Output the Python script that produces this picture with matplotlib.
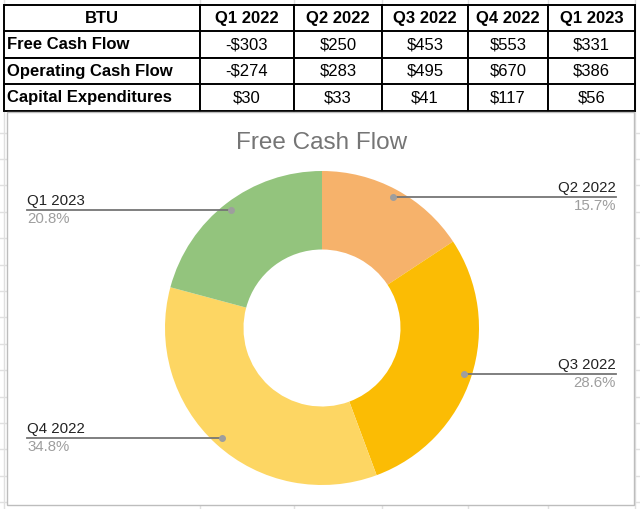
import numpy as np
import matplotlib
matplotlib.use('Agg')
from matplotlib import pyplot as plt

plt.rcParams['font.family'] = ['Liberation Sans', 'DejaVu Sans']

# table data
col_labels = ['BTU', 'Q1 2022', 'Q2 2022', 'Q3 2022', 'Q4 2022', 'Q1 2023']
row_labels = ['Free Cash Flow', 'Operating Cash Flow', 'Capital Expenditures']
fcf = ['-$303', '$250', '$453', '$553', '$331']
ocf = ['-$274', '$283', '$495', '$670', '$386']
capex = ['$30', '$33', '$41', '$117', '$56']

# donut data (positive FCF quarters only)
donut_labels = ['Q2 2022', 'Q3 2022', 'Q4 2022', 'Q1 2023']
donut_pct = [15.7, 28.6, 34.8, 20.8]
donut_colors = ['#f6b26b', '#fbbc04', '#fdd663', '#93c47d']

W, H = 640, 509
fig = plt.figure(figsize=(W / 100, H / 100), dpi=100)

def pixel_axes():
    a = fig.add_axes([0, 0, 1, 1])
    a.set_xlim(0, W)
    a.set_ylim(H, 0)
    a.axis('off')
    a.patch.set_alpha(0)
    return a

bg = pixel_axes()

# spreadsheet grid behind everything
col_edges = [4, 200, 294, 382, 468, 548, 635]
for x in col_edges:
    bg.plot([x, x], [0, H], color='#e0e0e0', lw=1, zorder=0)
for y in np.arange(132.5, H, 26.4):
    bg.plot([0, W], [y, y], color='#e0e0e0', lw=1, zorder=0)

# table
cells = [[row_labels[i]] + r for i, r in enumerate([fcf, ocf, capex])]
widths = np.diff(col_edges) / (col_edges[-1] - col_edges[0])
tb = bg.table(cellText=cells, colLabels=col_labels, colWidths=list(widths),
              bbox=[4 / W, 1 - 111 / H, (635 - 4) / W, (111 - 5) / H],
              cellLoc='center')
tb.auto_set_font_size(False)
for (r, c), cell in tb.get_celld().items():
    cell.set_edgecolor('black')
    cell.set_linewidth(1.4)
    cell.set_facecolor('white')
    txt = cell.get_text()
    txt.set_fontsize(12)
    if r == 0 or c == 0:
        txt.set_fontweight('bold')
    if c == 0 and r > 0:
        cell.set_text_props(ha='left')
        cell.PAD = 0.015

# chart box
bg.add_patch(plt.Rectangle((7, 112), 627, 393, facecolor='white',
                           edgecolor='#bdbdbd', lw=1, zorder=1))

# donut
cx, cy, R = 322, 328, 157
ax = fig.add_axes([(cx - R) / W, (H - cy - R) / H, 2 * R / W, 2 * R / H])
ax.pie(donut_pct, colors=donut_colors, startangle=90, counterclock=False,
       wedgeprops=dict(width=0.5, linewidth=0))
ax.set_xlim(-1, 1)
ax.set_ylim(-1, 1)

# overlay for title and leader labels
top = pixel_axes()
top.text(322, 143, 'Free Cash Flow', ha='center', va='center',
         fontsize=17.5, color='#757575')

cum = np.cumsum([0] + donut_pct[:-1])
for lab, p, start in zip(donut_labels, donut_pct, cum):
    theta = np.deg2rad((start + p / 2) / sum(donut_pct) * 360)
    dx = cx + 0.95 * R * np.sin(theta)
    dy = cy - 0.95 * R * np.cos(theta)
    if np.sin(theta) > 0:
        tx, ha = 616, 'right'
    else:
        tx, ha = 27, 'left'
    top.plot([tx, dx], [dy, dy], color='#757575', lw=1.3)
    top.plot(dx, dy, 'o', color='#9e9e9e', markersize=4)
    top.text(tx, dy - 2, lab, ha=ha, va='bottom', fontsize=10.8,
             color='#222222')
    top.text(tx, dy + 2, '%.1f%%' % p, ha=ha, va='top', fontsize=10.8,
             color='#9e9e9e')

fig.savefig('out.png', dpi=100)
